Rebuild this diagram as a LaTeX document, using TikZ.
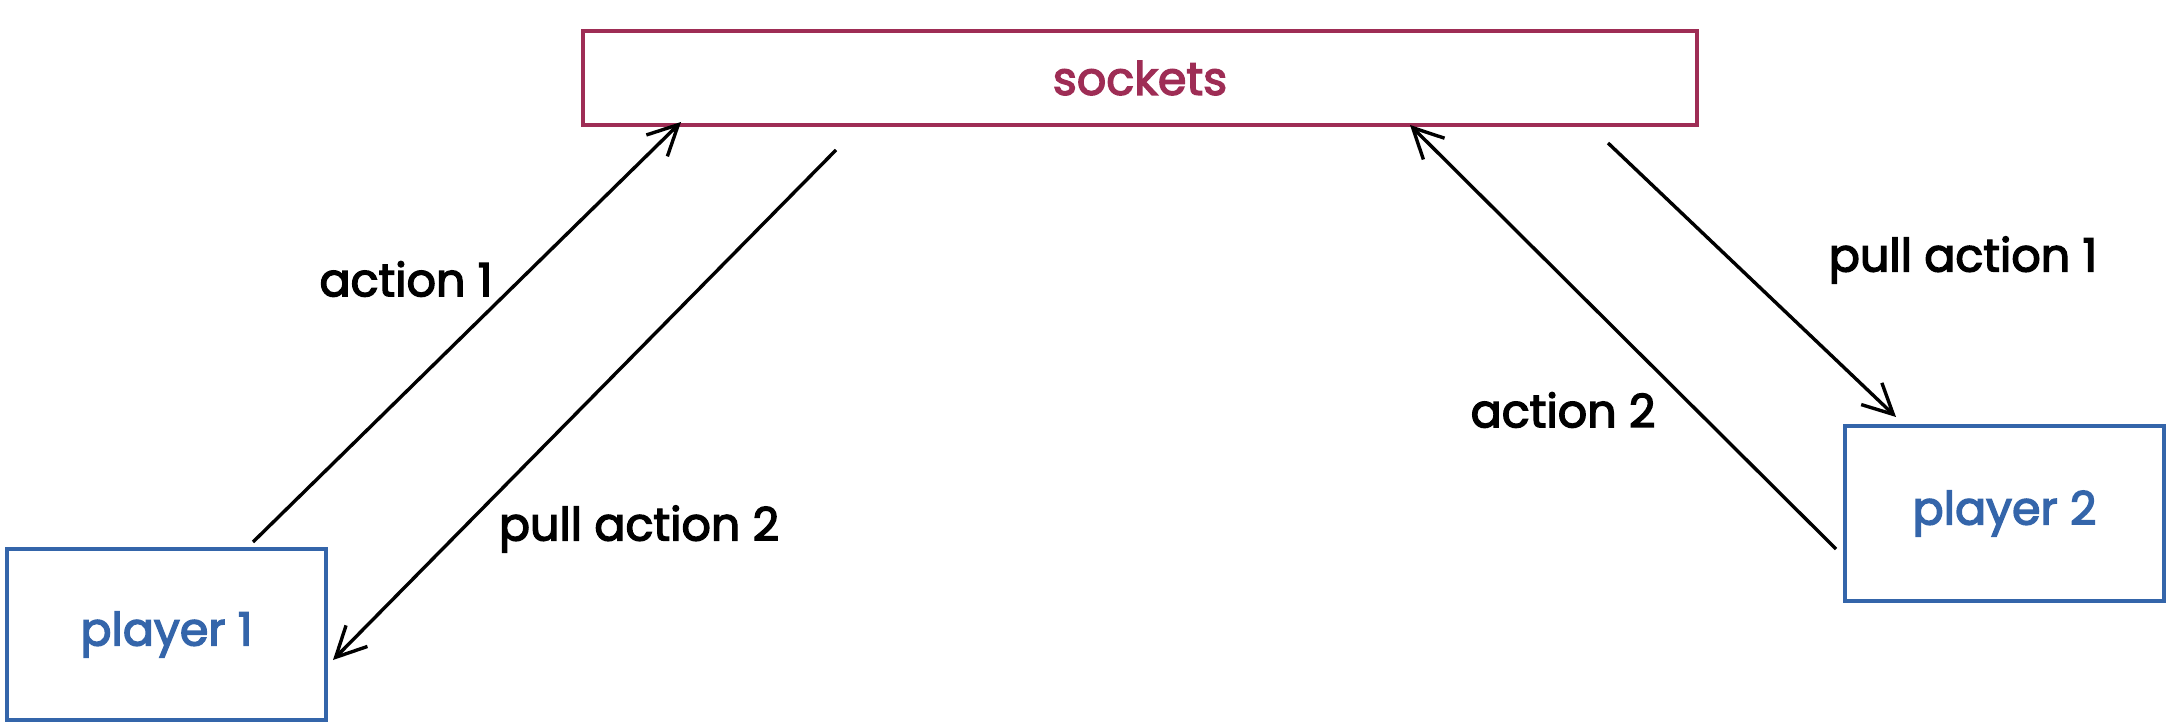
\documentclass[tikz,border=0pt]{standalone}
\usepackage{fontspec}
\setmainfont{Poppins}
\newfontfamily\sketchfont{Poppins}[FakeBold=3]
\usetikzlibrary{arrows.meta}
\definecolor{sockred}{RGB}{158,45,85}
\definecolor{playblue}{RGB}{52,101,170}

\begin{document}
\begin{tikzpicture}[x=0.5pt,y=-0.5pt,
    box/.style={draw, rectangle, line width=1.6pt, inner sep=0pt,
        font=\sketchfont\fontsize{23}{26}\selectfont},
    msg/.style={-{Straight Barb[length=15pt,width=15pt]}, line width=1.7pt},
    lbl/.style={font=\sketchfont\fontsize{23}{26}\selectfont}]
    \useasboundingbox (0,0) rectangle (2178,722);
    % boxes
    \node[box, sockred, minimum width=557pt, minimum height=47pt] (sockets) at (1140,78) {sockets};
    \node[box, playblue, minimum width=159.5pt, minimum height=85.5pt] (player1) at (166.5,634.5) {player 1};
    \node[box, playblue, minimum width=159.5pt, minimum height=87.5pt] (player2) at (2004.5,513.5) {player 2};
    % arrow ends
    \coordinate (p1out) at (253,542);
    \coordinate (s1in) at (681,122);
    \coordinate (s1out) at (836,150);
    \coordinate (p1in) at (333,660);
    \coordinate (p2out) at (1836,549);
    \coordinate (s2in) at (1410,125);
    \coordinate (s2out) at (1608,143);
    \coordinate (p2in) at (1896,417);
    \draw[msg] (p1out) -- (s1in);
    \draw[msg] (s1out) -- (p1in);
    \draw[msg] (p2out) -- (s2in);
    \draw[msg] (s2out) -- (p2in);
    % labels
    \node[lbl] (act1) at (406,279) {action 1};
    \node[lbl] (pull2) at (639,529) {pull action 2};
    \node[lbl] (act2) at (1563,410) {action 2};
    \node[lbl] (pull1) at (1963,260) {pull action 1};
\end{tikzpicture}
\end{document}
